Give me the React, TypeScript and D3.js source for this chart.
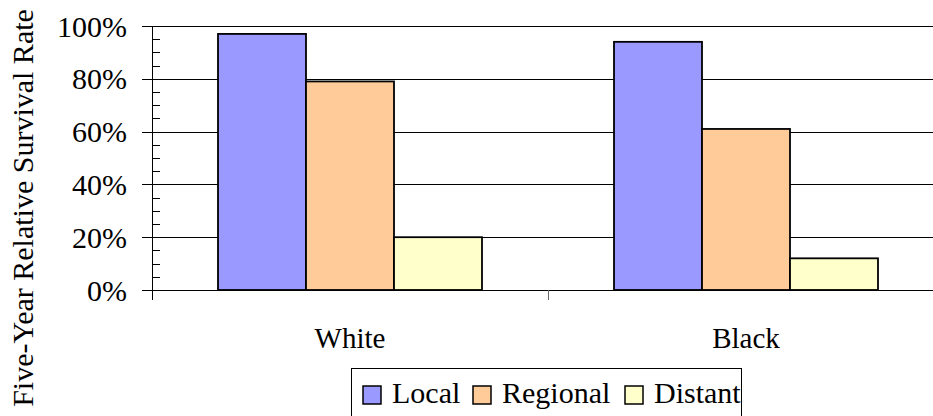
import React, { useEffect, useRef } from "react";
import * as d3 from "d3";

const categories = ["White", "Black"];
const seriesNames = ["Local", "Regional", "Distant"];
const localValues = [97, 94];
const regionalValues = [79, 61];
const distantValues = [20, 12];
const yTicks = [0, 20, 40, 60, 80, 100];
const yTickLabels = ["0%", "20%", "40%", "60%", "80%", "100%"];
const yMinorTicks = d3.range(0, 101, 5);
const colors = ["#9999FF", "#FFCC99", "#FFFFCC"];

const W = 933;
const H = 416;
const FF = '"Liberation Serif", "Times New Roman", Tinos';

function T(props: any) {
  const { children, size, ...rest } = props;
  return (
    <text {...rest} fill="#000" style={{ fontFamily: FF, fontSize: size + "px" }}>
      {children}
    </text>
  );
}

export default function App() {
  const ref = useRef<SVGSVGElement | null>(null);
  useEffect(() => {
    if (ref.current) {
      d3.select(ref.current).selectAll("text").style("font-family", FF);
    }
  }, []);

  const seriesValues = [localValues, regionalValues, distantValues];
  const x0 = d3.scaleBand<string>().domain(categories).range([152, 944]).paddingInner(0).paddingOuter(0);
  const x1 = d3
    .scaleBand<string>()
    .domain(seriesNames)
    .range([0, x0.bandwidth()])
    .paddingInner(0)
    .paddingOuter(0.75);
  const y = d3.scaleLinear().domain([0, 100]).range([290, 26]);
  const axisX = 152;
  const legendSwatchX = [363, 473, 625];

  return (
    <div style={{ position: "absolute", left: 0, top: 0, fontFamily: FF }}>
      <svg ref={ref} width={W} height={H} style={{ display: "block", fontFamily: FF }}>
        <rect x={0} y={0} width={W} height={H} fill="#fff" />
        {yTicks.map((t) => (
          <line
            key={"g" + t}
            x1={142}
            x2={944}
            y1={Math.round(y(t)) + 0.5}
            y2={Math.round(y(t)) + 0.5}
            stroke="#000"
            strokeWidth={1}
          />
        ))}
        {yMinorTicks
          .filter((t) => t % 20 !== 0)
          .map((t) => (
            <line
              key={"m" + t}
              x1={axisX}
              x2={160}
              y1={Math.round(y(t)) + 0.5}
              y2={Math.round(y(t)) + 0.5}
              stroke="#000"
              strokeWidth={1}
            />
          ))}
        <line x1={axisX + 0.5} x2={axisX + 0.5} y1={y(100)} y2={300} stroke="#000" strokeWidth={1} />
        {categories.map((c, i) =>
          i > 0 ? (
            <line
              key={"ct" + c}
              x1={(x0(c) as number) + 0.5}
              x2={(x0(c) as number) + 0.5}
              y1={290}
              y2={300}
              stroke="#666"
              strokeWidth={1}
            />
          ) : null
        )}
        {yTicks.map((t, i) => (
          <T key={"l" + t} x={127} y={y(t) + 10.5} textAnchor="end" size={30}>
            {yTickLabels[i]}
          </T>
        ))}
        {categories.map((c, ci) =>
          seriesNames.map((s, si) => {
            const v = seriesValues[si][ci];
            const bx = (x0(c) as number) + (x1(s) as number);
            return (
              <rect
                key={c + s}
                x={bx}
                y={y(v)}
                width={x1.bandwidth()}
                height={y(0) - y(v)}
                fill={colors[si]}
                stroke="#000"
                strokeWidth={1.8}
              />
            );
          })
        )}
        {categories.map((c) => (
          <T key={"cl" + c} x={(x0(c) as number) + x0.bandwidth() / 2} y={348} textAnchor="middle" size={29}>
            {c}
          </T>
        ))}
        <T transform="translate(33,208) rotate(-90)" textAnchor="middle" size={30}>
          Five-Year Relative Survival Rate
        </T>
        <rect x={351.5} y={368.5} width={390} height={60} fill="#fff" stroke="#000" strokeWidth={1} />
        {seriesNames.map((s, i) => (
          <g key={"lg" + s}>
            <rect
              x={legendSwatchX[i]}
              y={386}
              width={18}
              height={18}
              fill={colors[i]}
              stroke="#000"
              strokeWidth={1.5}
            />
            <T x={legendSwatchX[i] + 29} y={403} size={30}>
              {s}
            </T>
          </g>
        ))}
      </svg>
    </div>
  );
}
